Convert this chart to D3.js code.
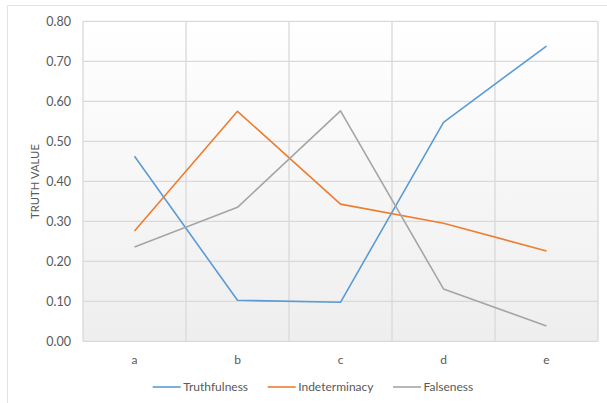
<!DOCTYPE html>
<html><head><meta charset="utf-8">
<script src="https://cdn.jsdelivr.net/npm/d3@7"></script>
<style>body{margin:0;background:#fff;}svg{display:block;font-family:Lato,"Open Sans",sans-serif;}</style>
</head><body><svg id="c" width="607" height="403"></svg>
<script>
const categories = ["a","b","c","d","e"];
const truthfulness = [0.4625,0.1025,0.0975,0.5475,0.738];
const indeterminacy = [0.276,0.575,0.343,0.295,0.226];
const falseness = [0.236,0.335,0.576,0.131,0.038];
const yTicks = [0,0.1,0.2,0.3,0.4,0.5,0.6,0.7,0.8];
const seriesNames = ["Truthfulness","Indeterminacy","Falseness"];
const seriesColors = ["#5B9BD5","#ED7D31","#A5A5A5"];
const series = [truthfulness, indeterminacy, falseness];

const svg = d3.select("#c");
const L=83, R=598, T=21.3, B=341.3;
const x = d3.scaleBand().domain(categories).range([L,R]).padding(0);
const y = d3.scaleLinear().domain([0,0.8]).range([B,T]);

const defs = svg.append("defs");
const g = defs.append("linearGradient").attr("id","bg").attr("x1",0).attr("y1",0).attr("x2",0).attr("y2",1);
g.append("stop").attr("offset","0%").attr("stop-color","#ffffff");
g.append("stop").attr("offset","100%").attr("stop-color","#eeeeee");

// outer chart border
svg.append("rect").attr("x",7.5).attr("y",5.5).attr("width",620).attr("height",420)
  .attr("fill","none").attr("stroke","#e3e3e3").attr("stroke-width",1);

svg.append("rect").attr("x",L).attr("y",T).attr("width",R-L).attr("height",B-T).attr("fill","url(#bg)");

// horizontal gridlines
svg.append("g").selectAll("line").data(yTicks).join("line")
  .attr("x1",L).attr("x2",R).attr("y1",d=>y(d)).attr("y2",d=>y(d))
  .attr("stroke","#d9d9d9").attr("stroke-width",1.3);
// vertical gridlines at band boundaries
const bounds = categories.map(c=>x(c)).concat([x(categories[categories.length-1])+x.bandwidth()]);
svg.append("g").selectAll("line").data(bounds).join("line")
  .attr("x1",d=>d).attr("x2",d=>d).attr("y1",T).attr("y2",B)
  .attr("stroke","#d9d9d9").attr("stroke-width",1.3);

// y tick labels
svg.append("g").selectAll("text").data(yTicks).join("text")
  .attr("x",71).attr("y",d=>y(d)).attr("dy","0.35em").attr("text-anchor","end")
  .attr("fill","#595959").attr("font-size",12.5).text(d=>d.toFixed(2));

// x labels
svg.append("g").selectAll("text").data(categories).join("text")
  .attr("x",d=>x(d)+x.bandwidth()/2).attr("y",360).attr("dy","0.35em").attr("text-anchor","middle")
  .attr("fill","#595959").attr("font-size",12).text(d=>d);

// y axis title
svg.append("text").attr("transform","translate(35,181.5) rotate(-90)").attr("text-anchor","middle")
  .attr("dy","0.35em").attr("fill","#595959").attr("font-size",11.3).text("TRUTH VALUE");

// lines
const line = d3.line().x((d,i)=>x(categories[i])+x.bandwidth()/2).y(d=>y(d));
series.forEach((s,i)=>{
  svg.append("path").datum(s).attr("d",line).attr("fill","none")
    .attr("stroke",seriesColors[i]).attr("stroke-width",1.6).attr("stroke-linejoin","round");
});

// legend
const legX = [152.7, 267.7, 393];
const legY = 387;
seriesNames.forEach((n,i)=>{
  svg.append("line").attr("x1",legX[i]).attr("x2",legX[i]+28).attr("y1",legY).attr("y2",legY)
    .attr("stroke",seriesColors[i]).attr("stroke-width",1.6);
  svg.append("text").attr("x",legX[i]+30.5).attr("y",legY).attr("dy","0.35em")
    .attr("fill","#595959").attr("font-size",12).text(n);
});
</script></body></html>
